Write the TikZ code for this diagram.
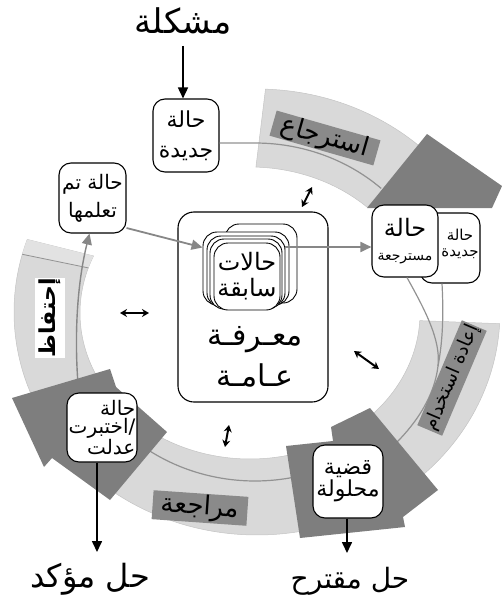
\documentclass[tikz,border=0pt]{standalone}
\usepackage{fontspec}
\newfontfamily\ar[Script=Arabic]{DejaVu Sans}
\TeXXeTstate=1
\usetikzlibrary{arrows.meta,calc}
\newcommand{\RL}[1]{\beginR#1\endR}
\newcommand{\arf}[1]{\ar\fontsize{#1}{#1}\selectfont}
\definecolor{bandc}{HTML}{D9D9D9}
\definecolor{tailc}{HTML}{E2E2E2}
\definecolor{bandedge}{HTML}{C4C4C4}
\definecolor{darkc}{HTML}{7E7E7E}
\definecolor{labc}{HTML}{8A8A8A}
\definecolor{connc}{HTML}{929292}
\definecolor{arrc}{HTML}{878787}
\tikzset{
  rbox/.style={draw=black, line width=1.1pt, fill=white, rounded corners=12pt, inner sep=1pt, align=center},
  stackbox/.style={draw=black, line width=0.9pt, fill=white, rounded corners=14pt},
  band/.style={fill=bandc, draw=bandedge, line width=0.5pt},
  darkpiece/.style={fill=darkc, draw=none},
  lab/.style={fill=labc, inner sep=0pt},
  conn/.style={draw=connc, line width=1.2pt},
  garr/.style={draw=arrc, line width=1.8pt, -{Triangle[length=11pt,width=10pt]}},
  barr/.style={draw=black, line width=1.6pt, -{Triangle[length=11pt,width=10pt]}},
  dbl/.style={line width=2pt, {Stealth[length=7pt,width=8pt]}-{Stealth[length=7pt,width=8pt]}},
}
\begin{document}
\begin{tikzpicture}[x=1pt,y=-1pt]
\useasboundingbox (0,0) rectangle (502,602);
% ---- bands
\path[band] plot[domain=-88:-46.5,samples=40] ({257+243*cos(\x)},{312+223*sin(\x)}) -- plot[domain=-46.5:-88,samples=40] ({250+170*cos(\x)},{313+146*sin(\x)}) -- cycle;
\path[band] plot[domain=3:52,samples=40] ({257+243*cos(\x)},{312+223*sin(\x)}) -- plot[domain=52:3,samples=40] ({250+170*cos(\x)},{313+146*sin(\x)}) -- cycle;
\path[band] plot[domain=72:128,samples=40] ({257+243*cos(\x)},{312+223*sin(\x)}) -- plot[domain=128:72,samples=40] ({250+170*cos(\x)},{313+146*sin(\x)}) -- cycle;
\path[band] plot[domain=152:199,samples=40] ({257+243*cos(\x)},{312+223*sin(\x)}) -- plot[domain=203:152,samples=40] ({250+170*cos(\x)},{313+146*sin(\x)}) -- cycle;
\fill[tailc] plot[domain=195:199,samples=10] ({257+243*cos(\x)},{312+223*sin(\x)}) -- plot[domain=203:198,samples=10] ({250+170*cos(\x)},{313+146*sin(\x)}) -- cycle;
\draw[connc, line width=0.8pt] ({257+243*cos(195)},{312+223*sin(195)}) -- ({250+170*cos(198)},{313+146*sin(198)});
% ---- nodes
\node[rbox, minimum width=66pt, minimum height=73pt, font=\arf{22}] (newcase) at (186,135.5) {\RL{حالة}\\[8pt]\RL{جديدة}};
\node[rbox, minimum width=67pt, minimum height=70pt, font=\arf{20}] (learned) at (92.5,198) {\RL{حالة تم}\\[8pt]\RL{تعلمها}};
\node[font=\arf{34}] (problem) at (183,21) {\RL{مشكلة}};
% connectors inside bands
\draw[conn] ($(newcase.east)+(0,7.5)$) -- plot[domain=-90:-47,samples=30] ({255+185*cos(\x)},{312+169*sin(\x)});
\draw[conn] plot[domain=77:126,samples=30] ({255+185*cos(\x)},{312+169*sin(\x)});
\coordinate (reuseend) at (392,447);
\coordinate (retainstart) at (78,384);
% ---- dark pieces
\fill[darkpiece] (367,208) -- (427,134) -- (502,186) -- (492,208) -- cycle;
% ---- band labels
\node[lab, rotate=-16, minimum width=108pt, minimum height=26pt, font=\arf{26}] (lretrieve) at (325,138) {\RL{استرجاع}};
\node[lab, rotate=-4, minimum width=95pt, minimum height=29pt, font=\arf{26}] (lrevise) at (200,508) {\RL{مراجعة}};
\node[fill=white, rotate=90, minimum width=77pt, minimum height=30pt, inner sep=0pt, font={\arf{22}\bfseries}] (lretain) at (50,318) {\RL{إحتفاظ}};
% ---- central knowledge box
\node[draw=black, line width=1.1pt, rounded corners=16pt, minimum width=150pt, minimum height=190pt] (know) at (253,307) {};
\node[stackbox, minimum width=72pt, minimum height=79pt] (s1) at (261,263.5) {};
\node[stackbox, minimum width=86pt, minimum height=73pt] (s2) at (246,268.5) {};
\node[stackbox, minimum width=78pt, minimum height=71pt] (s3) at (246,271.5) {};
\node[stackbox, minimum width=72pt, minimum height=70pt] (s4) at (246,274) {};
\node[stackbox, minimum width=66pt, minimum height=67pt, align=center, font=\arf{24}] (s5) at (247,276.5) {\RL{حالات}\\[2pt]\RL{سابقة}};
\node[font=\arf{30}, align=center] (knowtext) at (255,357) {\RL{معـرفـة}\\[10pt]\RL{عـامـة}};
% ---- right boxes
\node[rbox, minimum width=60pt, minimum height=70pt] (newcase2) at (450,248) {};
\node[font=\arf{15}, align=center] (newcase2t) at (460,244) {\RL{حالة}\\[1pt]\RL{جديدة}};
\node[rbox, minimum width=66pt, minimum height=72pt, font=\arf{24}] (retrieved) at (405,241) {\RL{حالة}\\[0pt]{\arf{14}\RL{مسترجعة}}};
% ---- reuse connectors
\draw[conn] ($(retrieved.south)+(2,0)$) .. controls (425,310) and (441,340) .. (438,366) .. controls (434,400) and (412,428) .. (reuseend);
\draw[conn] ($(newcase2.south)+(-8,0)$) .. controls (444,320) and (442,345) .. (438,366);
% retain connector
\draw[garr, line width=1.4pt] (retainstart) .. controls (74,330) and (78,280) .. ($(learned.south)+(-3,0)$);
% dark pieces over connectors
\fill[darkpiece] (286,446) -- (333,441) -- (331,427) -- (370,408) -- (438,490) -- (403,517) -- (405,527) -- (300,538) -- cycle;
\fill[darkpiece] (12,398) -- (110,369) -- (116,387) -- (167,432) -- (110,500) -- (52,458) -- (44,467) -- cycle;
\node[lab, rotate=67, minimum width=114pt, minimum height=27pt, font=\arf{19}] (lreuse) at (452,378) {\RL{إعادة استخدام}};
% ---- lower boxes
\node[rbox, minimum width=70pt, minimum height=69pt, align=right, font={\ar\fontsize{20}{18}\selectfont}] (tested) at (102,427.5) {\RL{حالة}\\\RL{اختبرت}/\\\RL{عدلت}};
\node[rbox, minimum width=70pt, minimum height=73pt, font=\arf{22}] (solved) at (348,481.5) {\RL{قضية}\\[0pt]\RL{محلولة}};
\node[font=\arf{32}] (confirmed) at (90,579) {\RL{حل مؤكد}};
\node[font=\arf{28}] (proposed) at (350,581) {\RL{حل مقترح}};
% ---- arrows
\draw[barr, shorten <=8pt] (problem.south) -- (problem.south |- newcase.north);
\coordinate (c1) at (97,552);
\draw[barr] (tested.south -| c1) -- (c1);
\coordinate (c2) at (347,553);
\draw[barr] (solved.south -| c2) -- (c2);
\draw[garr] ($(learned.east)+(0,30)$) -- ($(s2.west)+(0,-21)$);
\draw[garr] ($(s1.east)+(-12,-16.5)$) -- ($(retrieved.west)+(0,6)$);
% ---- double arrows
\coordinate (d1a) at (302,207); \coordinate (d1b) at (312,187);
\coordinate (d2a) at (120,313); \coordinate (d2b) at (149,313);
\coordinate (d3a) at (354,351); \coordinate (d3b) at (379,369);
\coordinate (d4a) at (229,425); \coordinate (d4b) at (225,447);
\draw[dbl] (d1a) -- (d1b);
\draw[dbl] (d2a) -- (d2b);
\draw[dbl] (d3a) -- (d3b);
\draw[dbl] (d4a) -- (d4b);
\end{tikzpicture}
\end{document}
